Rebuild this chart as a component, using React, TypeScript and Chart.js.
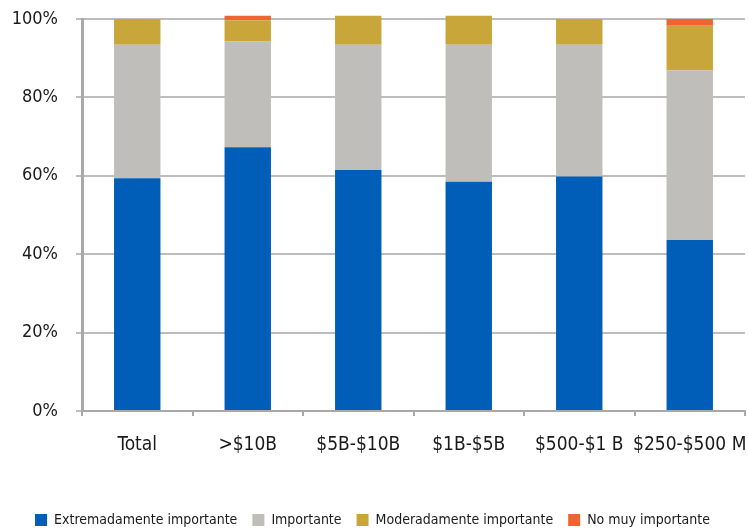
import React, { useEffect, useRef } from "react";
import { Chart, registerables } from "chart.js";

Chart.register(...registerables);

const categories = ["Total", ">$10B", "$5B-$10B", "$1B-$5B", "$500-$1 B", "$250-$500 M"];
const seriesNames = [
  "Extremadamente importante",
  "Importante",
  "Moderadamente importante",
  "No muy importante",
];
const extremadamente = [59.4, 67.3, 61.5, 58.5, 59.8, 43.6];
const importante = [34.0, 27.0, 31.9, 34.9, 33.6, 43.3];
const moderadamente = [6.6, 5.3, 7.4, 7.4, 6.6, 11.4];
const noMuy = [0, 1.2, 0, 0, 0, 1.7];
const yTicks = [0, 20, 40, 60, 80, 100];

const colors = ["#005EB8", "#BFBEBA", "#C9A63A", "#EF6430"];
const FONT = '"Liberation Sans Narrow", "DejaVu Sans Condensed", "Arial Narrow", sans-serif';

export default function App() {
  const ref = useRef<HTMLCanvasElement | null>(null);

  useEffect(() => {
    document.body.style.margin = "0";
    const canvas = ref.current;
    if (!canvas) return;
    const series = [extremadamente, importante, moderadamente, noMuy];
    const chart = new Chart(canvas, {
      type: "bar",
      data: {
        labels: categories,
        datasets: series.map((d, i) => ({
          label: seriesNames[i],
          data: d,
          backgroundColor: colors[i],
          borderWidth: 0,
          barPercentage: 0.42,
          categoryPercentage: 1,
          clip: false as any,
        })),
      },
      options: {
        animation: false,
        responsive: false,
        maintainAspectRatio: false,
        layout: { padding: { top: 19, right: 3, left: 0, bottom: 0 } },
        plugins: {
          tooltip: { enabled: false },
          legend: {
            position: "bottom",
            labels: {
              boxWidth: 12,
              boxHeight: 12,
              padding: 15,
              color: "#1a1a1a",
              font: { family: FONT, size: 14 },
            },
          },
        },
        scales: {
          x: {
            stacked: true,
            grid: {
              drawOnChartArea: false,
              drawTicks: true,
              tickLength: 5,
              color: "#A8A8A8",
              lineWidth: 2,
            },
            border: { color: "#A8A8A8", width: 2 },
            ticks: {
              color: "#1a1a1a",
              font: { family: FONT, size: 19 },
              padding: 18,
              maxRotation: 0,
              minRotation: 0,
              autoSkip: false,
            },
            afterFit: (scale: any) => {
              scale.height = 87;
              scale.paddingLeft = 0;
              scale.paddingRight = 0;
            },
          },
          y: {
            stacked: true,
            min: 0,
            max: 100,
            afterBuildTicks: (scale: any) => {
              scale.ticks = yTicks.map((v) => ({ value: v }));
            },
            grid: {
              color: "#BDBDBD",
              lineWidth: 2,
              tickLength: 6,
            },
            border: { color: "#A8A8A8", width: 3 },
            ticks: {
              color: "#1a1a1a",
              font: { family: FONT, size: 18 },
              padding: 18,
              callback: (v: any) => v + "%",
            },
            afterFit: (scale: any) => {
              scale.width = 82;
              scale.paddingTop = 0;
              scale.paddingBottom = 0;
            },
          },
        },
      },
    });
    return () => chart.destroy();
  }, []);

  return (
    <div style={{ width: 748, height: 530, overflow: "hidden" }}>
      <canvas ref={ref} width={748} height={537} style={{ display: "block" }} />
    </div>
  );
}
